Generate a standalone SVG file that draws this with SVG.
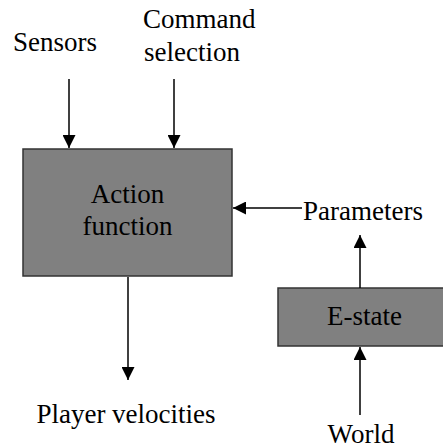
<svg xmlns="http://www.w3.org/2000/svg" width="443" height="448" viewBox="0 0 443 448">
<style>
.box{fill:#808080;stroke:#333;stroke-width:1.5}
.t{font-family:"Liberation Serif","Times New Roman",serif;font-size:27px;fill:#000}
.c{stroke:#000;stroke-width:1.5;fill:none}
</style>
<defs>
<marker id="ah" markerUnits="userSpaceOnUse" markerWidth="13" markerHeight="13" viewBox="0 0 10 10" refX="10" refY="5" orient="auto">
<path d="M0,0 L10,5 L0,10 z" fill="#000"/>
</marker>
</defs>
<rect width="443" height="448" fill="#fff"/>
<g id="sensors"><text class="t" x="13" y="51">Sensors</text></g>
<g id="command"><text class="t" x="143" y="28">Command</text><text class="t" x="144" y="61">selection</text></g>
<g id="action"><rect class="box" x="23" y="149" width="209" height="127"/>
<text class="t" x="127.5" y="203" text-anchor="middle">Action</text>
<text class="t" x="127.5" y="235" text-anchor="middle">function</text></g>
<g id="parameters"><text class="t" x="303" y="220">Parameters</text></g>
<g id="estate"><rect class="box" x="278" y="288" width="170" height="58"/>
<text class="t" x="364.5" y="325" text-anchor="middle">E-state</text></g>
<g id="world"><text class="t" x="361" y="443" text-anchor="middle">World</text></g>
<g id="velocities"><text class="t" x="126" y="423" text-anchor="middle">Player velocities</text></g>
<g id="connectors">
<line class="c" x1="69" y1="79" x2="69" y2="148" marker-end="url(#ah)"/>
<line class="c" x1="174" y1="79" x2="174" y2="148" marker-end="url(#ah)"/>
<line class="c" x1="302" y1="208" x2="233" y2="208" marker-end="url(#ah)"/>
<line class="c" x1="360" y1="288" x2="360" y2="235" marker-end="url(#ah)"/>
<line class="c" x1="360" y1="415" x2="360" y2="347" marker-end="url(#ah)"/>
<line class="c" x1="128" y1="277" x2="128" y2="380" marker-end="url(#ah)"/>
</g>
</svg>
